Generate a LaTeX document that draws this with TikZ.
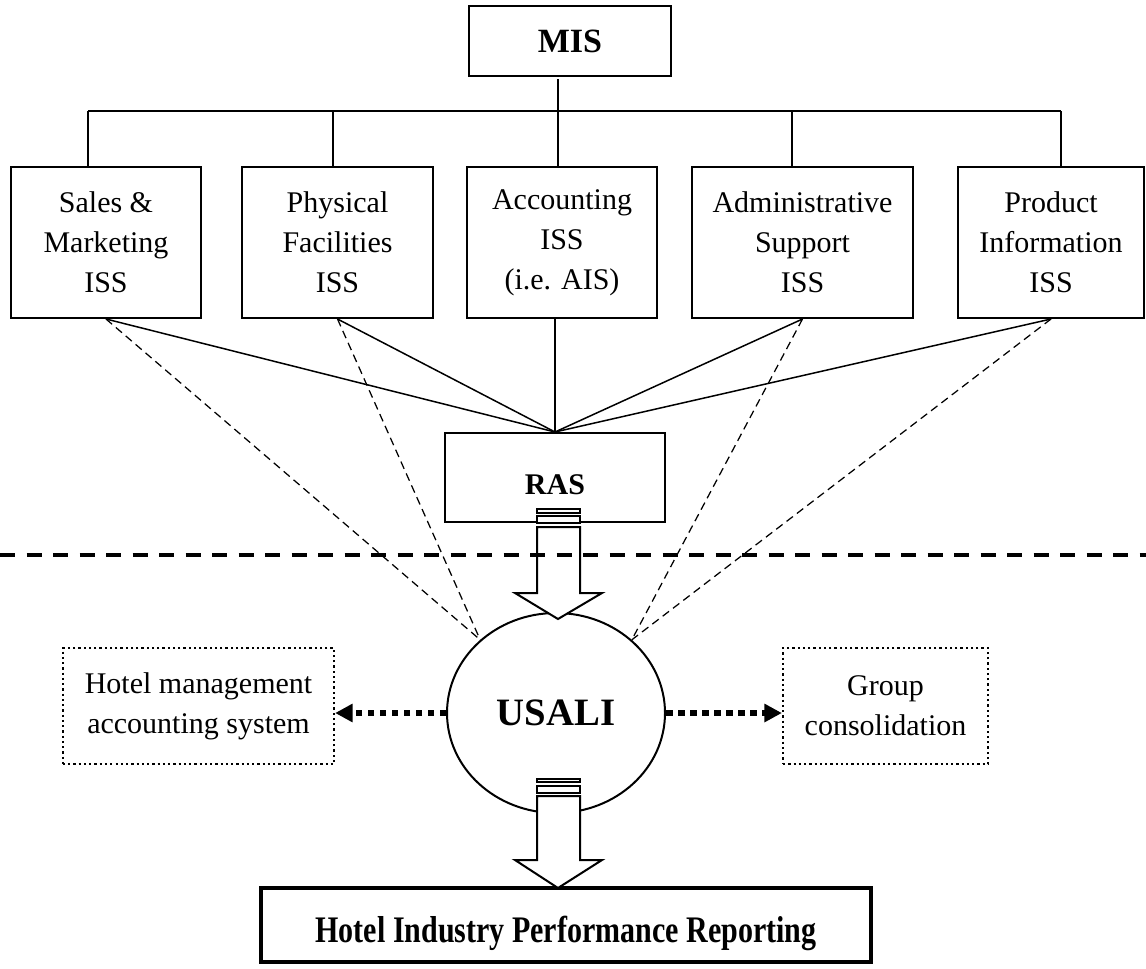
\documentclass[tikz,border=0pt]{standalone}
\usepackage{fontspec}
\setmainfont{Liberation Serif}
\usepackage{graphicx}
\usetikzlibrary{arrows.meta,shapes.geometric}
\begin{document}
\begin{tikzpicture}[x=0.4pt,y=-0.4pt,
  box/.style={draw, line width=0.8pt, inner sep=0pt, align=center,
    font=\fontsize{12}{16}\selectfont},
  iss/.style={box, minimum height=60.4pt},
  dotbox/.style={box, line width=0.9pt, dash pattern=on 0.9pt off 1.2pt},
  conn/.style={line width=0.6pt},
  thindash/.style={line width=0.5pt, dash pattern=on 3.2pt off 2pt},
  bigdash/.style={line width=1.6pt, dash pattern=on 6pt off 4.6pt},
  dotarrow/.style={line width=2.6pt, dash pattern=on 2.6pt off 2.2pt,
    -{Triangle[length=7pt,width=7pt]}},
  blockarrow/.style={draw, line width=0.8pt, fill=white},
  lbl/.style={inner sep=0pt, font=\fontsize{12}{16}\selectfont\bfseries}
]
\useasboundingbox (0,0) rectangle (1146,968);

% top
\node[box, minimum width=80.8pt, minimum height=28pt,
  font=\fontsize{13.6}{16}\selectfont\bfseries] (mis) at (570,41) {MIS};
\coordinate (d1) at (88,111);
\coordinate (d2) at (333,111);
\coordinate (d3) at (558,111);
\coordinate (d4) at (792,111);
\coordinate (d5) at (1061,111);

\node[iss, minimum width=76pt] (sales) at (106,242.5) {Sales \&\\Marketing\\ISS};
\node[iss, minimum width=76.4pt] (phys) at (337.5,242.5) {Physical\\Facilities\\ISS};
\node[iss, minimum width=76pt] (acc) at (562,242.5) {Accounting\\ISS\\(i.e. AIS)};
\node[iss, minimum width=88.4pt] (adm) at (802.5,242.5) {Administrative\\Support\\ISS};
\node[iss, minimum width=74.4pt] (prod) at (1051,242.5) {Product\\Information\\ISS};

\coordinate (misfoot) at (558,79);
\draw[conn] (misfoot) -- (d3);
\draw[conn] (d1) -- (d5);
\draw[conn] (d1) -- (d1 |- sales.north);
\draw[conn] (d2) -- (d2 |- phys.north);
\draw[conn] (d3) -- (d3 |- acc.north);
\draw[conn] (d4) -- (d4 |- adm.north);
\draw[conn] (d5) -- (d5 |- prod.north);

% RAS
\node[box, minimum width=88pt, minimum height=35.6pt] (ras) at (555,477.5) {};
\node[lbl] (raslbl) at (555,485) {RAS};

\draw[conn] (sales.south) -- (ras.north);
\draw[conn] (phys.south) -- (ras.north);
\draw[conn] (acc.south -| ras.north) -- (ras.north);
\draw[conn] (adm.south) -- (ras.north);
\draw[conn] (prod.south) -- (ras.north);

% USALI
\node[draw, ellipse, line width=0.8pt, inner sep=0pt, minimum width=87.2pt,
  minimum height=80pt, font=\fontsize{15.5}{18}\selectfont\bfseries] (usali) at (556,713) {USALI};

\draw[thindash] (sales.south) -- (usali.136);
\draw[thindash] (phys.south) -- (usali.136);
\draw[thindash] (adm.south) -- (usali.44);
\draw[thindash] (prod.south) -- (usali.44);

% side boxes
\node[dotbox, minimum width=108.4pt, minimum height=46.4pt] (hma) at (198.5,706)
  {Hotel management\\accounting system};
\node[dotbox, minimum width=82pt, minimum height=46.4pt] (grp) at (885.5,706)
  {Group\\consolidation};
\draw[dotarrow] (usali.west) -- (usali.west -| hma.east);
\draw[dotarrow] (usali.east) -- (usali.east -| grp.west);

% bottom box
\node[box, line width=1.6pt, minimum width=244pt, minimum height=29.6pt] (hipr) at (566,925) {};
\node[inner sep=0pt] (hiprlbl) at (566,933)
  {\scalebox{0.8}[1]{\fontsize{15}{18}\selectfont\bfseries Hotel Industry Performance Reporting}};

% block arrow RAS -> USALI
\draw[blockarrow] (537,509) rectangle (580,513);
\draw[blockarrow] (537,516) rectangle (580,523);
\draw[blockarrow] (537,527) -- (537,593) -- (515,593) -- (558,619) -- (602,593)
  -- (580,593) -- (580,527) -- cycle;

% block arrow USALI -> Hotel
\draw[blockarrow] (537,779) rectangle (580,782);
\draw[blockarrow] (537,786) rectangle (580,793);
\draw[blockarrow] (537,796) -- (537,860) -- (515,860) -- (558,888) -- (602,860)
  -- (580,860) -- (580,796) -- cycle;

% separator
\coordinate (sepL) at (0,555);
\coordinate (sepR) at (1146,555);
\draw[bigdash] (sepL) -- (sepR);
\end{tikzpicture}
\end{document}
